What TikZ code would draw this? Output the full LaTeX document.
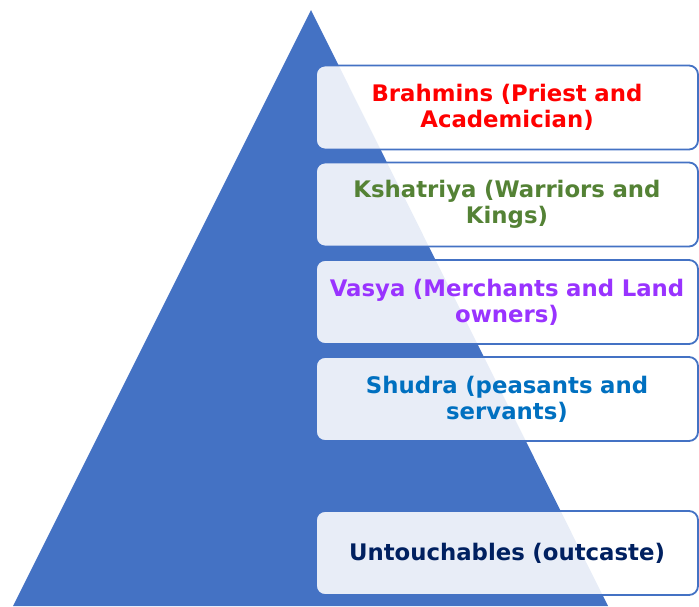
\documentclass[tikz,border=0pt]{standalone}
\usepackage{fontspec}
\setmainfont{DejaVu Sans}
\definecolor{pyrblue}{HTML}{4472C4}
\definecolor{brahred}{HTML}{FF0000}
\definecolor{kshgreen}{HTML}{548235}
\definecolor{vaspurple}{HTML}{9933FF}
\definecolor{shublue}{HTML}{0070C0}
\definecolor{untnavy}{HTML}{002060}
\tikzset{
  castebox/.style={draw=pyrblue, line width=1.8pt, rounded corners=9pt, fill=white,
    fill opacity=0.88, text opacity=1, minimum width=382pt, minimum height=84pt,
    text width=376pt, align=center, inner sep=0pt,
    font=\fontsize{22.8}{26}\selectfont\bfseries}
}
\begin{document}
\begin{tikzpicture}[x=1pt,y=-1pt]
\useasboundingbox (0,0) rectangle (699,606);
\fill[pyrblue] (311,10) -- (608,606) -- (13,606) -- cycle;
\node[castebox, text=brahred] (brahmins) at (507,107.5) {Brahmins (Priest and\\Academician)};
\node[castebox, text=kshgreen] (kshatriya) at (507,204.5) {Kshatriya (Warriors and\\Kings)};
\node[castebox, text=vaspurple] (vasya) at (507,302) {Vasya (Merchants and Land\\owners)};
\node[castebox, text=shublue] (shudra) at (507,399) {Shudra (peasants and\\servants)};
\node[castebox, text=untnavy] (untouch) at (507,553) {Untouchables (outcaste)};
\end{tikzpicture}
\end{document}
